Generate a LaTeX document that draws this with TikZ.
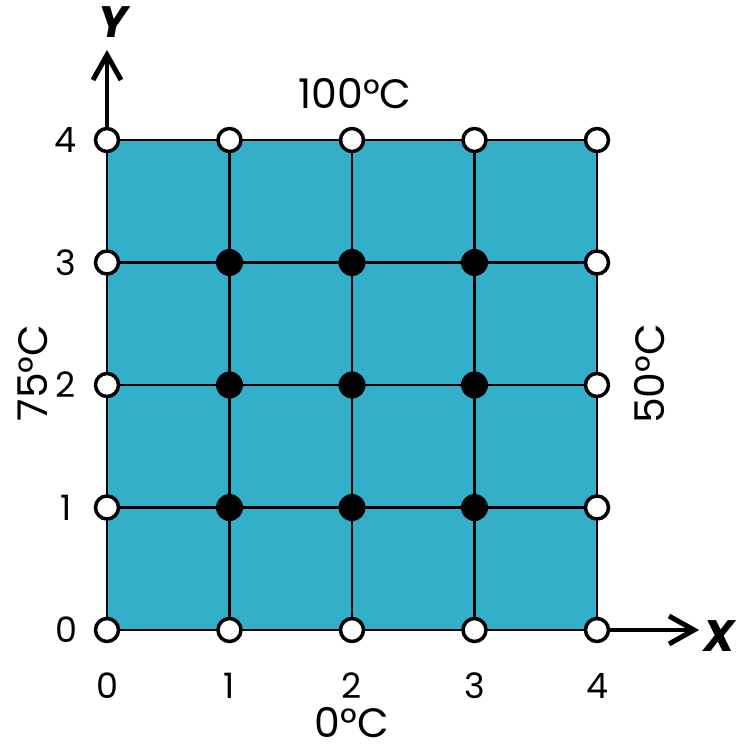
\documentclass[tikz,border=0pt]{standalone}
\usepackage{fontspec}
\setmainfont{Poppins}
\usetikzlibrary{arrows.meta}
\definecolor{plate}{HTML}{34AFCA}
\begin{document}
\begin{tikzpicture}[x=1pt,y=-1pt,
  lbl/.style={font=\fontsize{35}{37}\selectfont, inner sep=0pt},
  tlbl/.style={font=\fontsize{41}{43}\selectfont, inner sep=0pt},
  axlbl/.style={font=\fontsize{44}{46}\selectfont\bfseries\itshape, inner sep=0pt},
  gridline/.style={line width=2.6pt, black},
  bnode/.style={circle, draw=black, line width=3.5pt, fill=white, minimum size=23pt, inner sep=0pt},
  inode/.style={circle, fill=black, minimum size=27pt, inner sep=0pt},
  axline/.style={line width=4.5pt},
  chevron/.style={line width=5pt, line join=miter}]
\useasboundingbox (0,0) rectangle (737,751);
\fill[plate] (107,140) rectangle (597,630);
\foreach \i/\x in {0/107,1/229.5,2/352,3/474.5,4/597}{
  \draw[gridline] (\x,140) -- (\x,630);
}
\foreach \j/\y in {0/630,1/507.5,2/385,3/262.5,4/140}{
  \draw[gridline] (107,\y) -- (597,\y);
}
\foreach \i/\x in {0/107,1/229.5,2/352,3/474.5,4/597}{
  \foreach \j/\y in {0/630,1/507.5,2/385,3/262.5,4/140}{
    \coordinate (p\i\j) at (\x,\y);
  }
}
\coordinate (ytip) at (107,56);
\coordinate (xtip) at (693,630);
\draw[axline] (p04) -- (ytip);
\draw[axline] (p40) -- (xtip);
\draw[chevron] ([shift={(-14,24)}]ytip) -- ([shift={(0,-1)}]ytip) -- ([shift={(14,24)}]ytip);
\draw[chevron] ([shift={(-24,-14)}]xtip) -- ([shift={(1,0)}]xtip) -- ([shift={(-24,14)}]xtip);
\foreach \i in {0,...,4}{
  \node[bnode] at (p\i0) {};
  \node[bnode] at (p\i4) {};
}
\foreach \j in {1,2,3}{
  \node[bnode] at (p0\j) {};
  \node[bnode] at (p4\j) {};
  \foreach \i in {1,2,3}{
    \node[inode] at (p\i\j) {};
  }
}
\foreach \i/\x in {0/107,1/229.5,2/352,3/474.5,4/597}{
  \node[lbl] (xl\i) at (\x,686) {\i};
}
\foreach \j/\y in {0/630,1/507.5,2/385,3/262.5,4/140}{
  \node[lbl] (yl\j) at (66,\y) {\j};
}
\node[axlbl] (ylab) at (113,22) {Y};
\node[axlbl] (xlab) at (719,636) {X};
\node[tlbl] (top) at (355,94) {100°C};
\node[tlbl] (bot) at (352,723) {0°C};
\node[tlbl, rotate=90] (left) at (33,373) {75°C};
\node[tlbl, rotate=90] (right) at (650,374) {50°C};
\end{tikzpicture}
\end{document}
